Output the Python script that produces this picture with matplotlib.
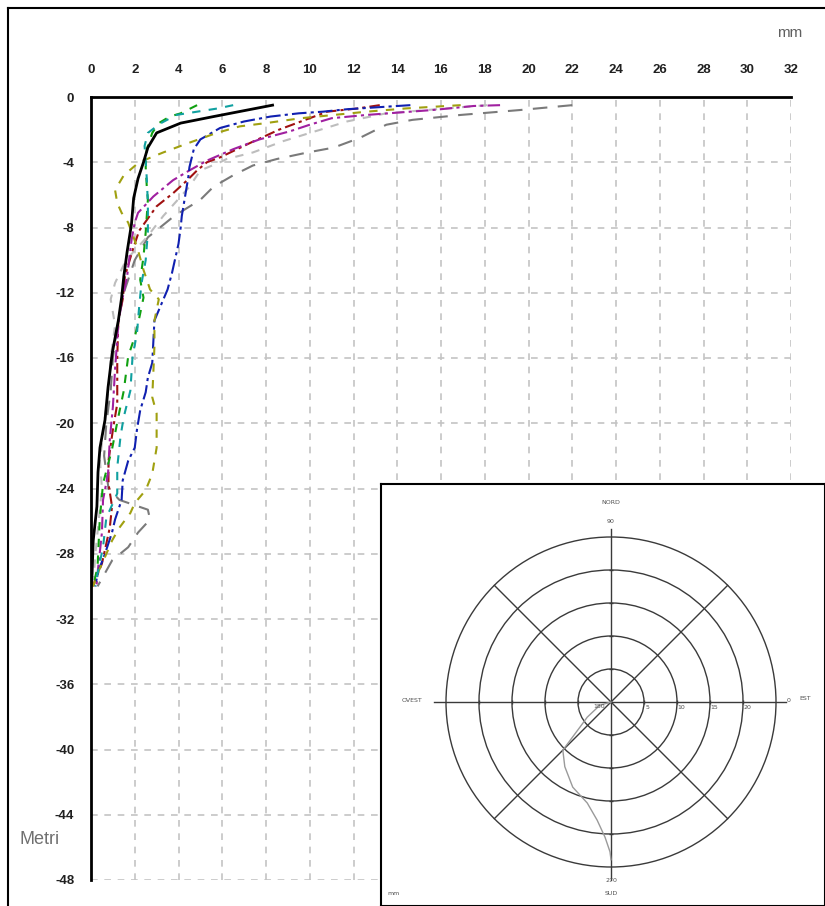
'''
Inclinometer profile: displacement (mm) vs depth (m), with a polar
plan-view inset of the displacement direction.
'''

import numpy as np
import matplotlib.pyplot as plt
from matplotlib.lines import Line2D
from matplotlib.patches import Circle

# ---- data ---------------------------------------------------------------
x_ticks = list(range(0, 33, 2))
y_ticks = list(range(0, -49, -4))

black_d = [-0.5, -1.2, -1.6, -2.2, -3.1, -4.0, -5.0, -6.2, -7.8, -9.5, -11, -12.3, -13.7,
           -15.7, -17.8, -19.8, -21.5, -23, -25.1, -27.2, -29.2, -30]
black_x = [8.3, 5.6, 4.1, 3.0, 2.6, 2.4, 2.15, 1.95, 1.85, 1.65, 1.5, 1.4, 1.25,
           0.97, 0.78, 0.64, 0.41, 0.32, 0.27, 0.1, 0.05, 0.0]

cyan_d = [-0.5, -0.7, -1.1, -1.6, -2.2, -3.0, -3.9, -5.0, -6.5, -8.3, -10, -11.5, -12.9,
          -14.5, -15.9, -18, -19.6, -20.8, -22.7, -24.3, -25.8, -27.6, -29.2, -30]
cyan_x = [6.5, 5.8, 3.9, 3.2, 2.6, 2.45, 2.5, 2.55, 2.6, 2.6, 2.5, 2.3, 2.2,
          2.1, 1.9, 1.8, 1.5, 1.35, 1.2, 1.2, 0.7, 0.55, 0.3, 0.2]

green_d = [-0.5, -1.0, -1.2, -1.6, -2.2, -3.2, -4.3, -5.5, -6.3, -7.3, -8.3, -9.8, -11.2,
           -12.3, -13.9, -14.7, -15.9, -18, -19.6, -21.6, -23.7, -25.9, -28.8, -30]
green_x = [4.85, 4.1, 3.6, 3.1, 2.8, 2.55, 2.5, 2.55, 2.6, 2.55, 2.5, 2.4, 2.25,
           2.4, 2.15, 2.0, 1.7, 1.5, 1.25, 0.96, 0.55, 0.4, 0.3, 0.1]

olive_d = [-0.5, -0.7, -0.9, -1.3, -1.6, -1.8, -2.2, -2.8, -3.4, -4.0, -4.8, -5.7, -6.5,
           -7.1, -7.7, -8.8, -9.4, -10.6, -11.8, -12.4, -13.7, -15.3, -16.9, -18.4,
           -19.4, -21.5, -23.1, -24.1, -24.9, -25.5, -26.4, -27.2, -28.2, -29.2, -30]
olive_x = [16.9, 14.4, 12.6, 9.6, 8.0, 6.8, 5.75, 4.5, 3.3, 2.2, 1.5, 1.1, 1.2,
           1.4, 1.7, 2.0, 2.15, 2.4, 2.7, 3.1, 2.9, 2.9, 2.85, 2.8,
           3.0, 3.0, 2.8, 2.5, 2.0, 1.8, 1.3, 0.96, 0.64, 0.3, 0.1]

blue_d = [-0.5, -0.75, -0.9, -1.0, -1.2, -1.5, -1.9, -2.6, -3.2, -4.3, -4.9, -6.1, -7.3,
          -8.0, -9.0, -10.8, -11.8, -13.7, -16.3, -17.2, -18.1, -19.2, -20.4, -21.5,
          -22.3, -23.5, -24.7, -25.9, -26.7, -28, -29.2, -30]
blue_x = [14.6, 11.7, 10.6, 9.5, 8.2, 7.0, 5.9, 5.0, 4.7, 4.5, 4.45, 4.3, 4.15,
          4.1, 4.0, 3.7, 3.5, 2.9, 2.8, 2.6, 2.5, 2.25, 2.1, 2.0,
          1.7, 1.45, 1.4, 1.1, 0.96, 0.64, 0.3, 0.2]

magenta_d = [-0.5, -0.55, -0.8, -1.1, -1.3, -1.7, -2.1, -2.6, -3.2, -3.9, -4.5, -5.1, -6.1,
             -7.1, -7.7, -8.8, -11, -12.6, -13.9, -16.7, -19, -21, -23.1, -24.7, -26.7,
             -29.2, -30]
magenta_x = [18.7, 17.5, 15.6, 12.6, 11, 10, 9.1, 7.7, 6.5, 5.3, 4.5, 3.75, 2.85,
             2.15, 2.0, 1.85, 1.65, 1.4, 1.25, 1.1, 1.0, 0.86, 0.78, 0.55, 0.5,
             0.3, 0.25]

red_d = [-0.5, -0.7, -0.9, -2.0, -2.8, -3.7, -4.0, -4.5, -5.1, -5.9, -6.7, -8.2, -9.4,
         -11, -12.4, -13.7, -16, -18.8, -20.4, -22.3, -23.7, -25.1, -26.4, -27.2,
         -28.6, -29.6, -30]
red_x = [13.2, 12.2, 10.8, 8.6, 7.3, 5.9, 5.3, 4.85, 4.4, 3.75, 3.0, 2.2, 1.9,
         1.55, 1.45, 1.25, 1.2, 1.2, 1.0, 0.8, 0.8, 0.96, 0.86, 0.73,
         0.5, 0.2, 0.1]

silver_d = [-0.5, -1.0, -1.5, -2.0, -2.7, -3.4, -3.8, -4.0, -4.5, -5.5, -7.3, -8.6, -10,
            -11.4, -12.4, -14, -16, -18, -20, -22.3, -24, -26, -28, -30]
silver_x = [18.1, 13.5, 11.7, 10.5, 8.8, 7.4, 6.2, 5.9, 5.0, 4.5, 3.3, 2.55, 1.6,
            1.1, 0.9, 1.1, 0.9, 0.8, 0.6, 0.41, 0.5, 0.35, 0.2, 0.1]

gray_d = [-0.5, -0.8, -1.1, -1.4, -1.7, -2.5, -3.1, -3.4, -3.8, -4.2, -4.8, -5.5, -6.3,
          -7.3, -8.6, -10, -12, -14, -16, -18, -20, -22, -24, -24.7, -25.3, -25.9,
          -26.7, -27.6, -28.4, -30]
gray_x = [22.0, 19.6, 16.9, 14.7, 13.5, 12.3, 11.1, 9.9, 8.5, 7.4, 6.5, 5.6, 5.0,
          3.8, 2.6, 2.0, 1.5, 1.2, 1.0, 0.9, 0.7, 0.6, 0.8, 1.3, 2.6, 2.7,
          2.15, 1.7, 0.97, 0.3]

# polar inset: cumulative displacement path (mm, east / north)
path_e = [0, -1.7, -3.6, -4.7, -7.3, -7.0, -5.8, -3.6, -2.1, -0.9, -0.15, 0.0]
path_n = [0, -0.5, -2.3, -3.8, -7.3, -9.8, -12.9, -15.3, -17.9, -20.5, -22.7, -23.9]
rings = [5, 10, 15, 20, 25]

# ---- figure ---------------------------------------------------------------
W, H = 825, 906
fig = plt.figure(figsize=(W / 100, H / 100), dpi=100)
fig.patch.set_facecolor('white')

tick_font = ['Liberation Sans Narrow', 'Liberation Sans', 'DejaVu Sans']

ax = fig.add_axes([91 / W, 1 - 880 / H, 700 / W, 783 / H])
ax.set_xlim(0, 32)
ax.set_ylim(-48, 0)
ax.xaxis.tick_top()
ax.set_xticks(x_ticks)
ax.set_yticks(y_ticks)
ax.set_xticklabels([str(v) for v in x_ticks], fontsize=9.5, fontweight='bold',
                   family=tick_font, color='#202020')
ax.set_yticklabels([str(v) for v in y_ticks], fontsize=9.5, fontweight='bold',
                   family=tick_font, color='#202020')
ax.tick_params(axis='x', length=0, pad=15)
ax.tick_params(axis='y', length=0, pad=12)
ax.grid(True, color='#c4c4c4', linestyle=(0, (4, 4)), linewidth=1.2)
ax.spines['right'].set_visible(False)
ax.spines['bottom'].set_visible(False)
ax.spines['left'].set_linewidth(2)
ax.spines['top'].set_linewidth(2)
ax.set_axisbelow(True)

series = [
    (gray_x, gray_d, '#7a7a7a', (0, (7, 5))),
    (silver_x, silver_d, '#bdbdbd', (0, (4, 4))),
    (red_x, red_d, '#a01010', (0, (5, 2, 1.5, 2))),
    (magenta_x, magenta_d, '#a020a0', (0, (6, 2, 1.5, 2))),
    (blue_x, blue_d, '#1020b0', (0, (7, 2, 1.5, 2))),
    (olive_x, olive_d, '#a0a010', (0, (4, 4))),
    (green_x, green_d, '#10a010', (0, (4, 4))),
    (cyan_x, cyan_d, '#10a0a0', (0, (4, 4))),
    (black_x, black_d, 'black', '-'),
]
for xs, ds, col, ls in series:
    lw = 2 if col == 'black' else 1.5
    ax.plot(xs, ds, color=col, linestyle=ls, linewidth=lw)

fig.text(790 / W, 1 - 33 / H, 'mm', fontsize=11, color='#606060',
         ha='center', va='center', family='Liberation Sans')
fig.text(40 / W, 1 - 840 / H, 'Metri', fontsize=13, color='#707070',
         ha='center', va='center', family='Liberation Sans')

# outer frame (left and top edges)
fig.add_artist(Line2D([8 / W, 8 / W], [0, 1 - 8 / H], transform=fig.transFigure,
                      color='black', linewidth=1.5))
fig.add_artist(Line2D([8 / W, 1], [1 - 8 / H, 1 - 8 / H], transform=fig.transFigure,
                      color='black', linewidth=1.5))

# ---- polar inset ----------------------------------------------------------
px_mm = 6.6
ix0, iy0, iw, ih = 381, 484, 444, 422
cx, cy = 611 - ix0, (iy0 + ih) - 702
pax = fig.add_axes([ix0 / W, 1 - (iy0 + ih) / H, iw / W, ih / H])
pax.set_xlim(-cx / px_mm, (iw - cx) / px_mm)
pax.set_ylim(-cy / px_mm, (ih - cy) / px_mm)
pax.set_facecolor('white')
pax.set_xticks([])
pax.set_yticks([])
for s in pax.spines.values():
    s.set_linewidth(1.5)
    s.set_color('black')

line_col = '#3a3a3a'
for r in rings:
    pax.add_patch(Circle((0, 0), r, fill=False, edgecolor=line_col, linewidth=1))
pax.plot([-26.8, 26.5], [0, 0], color=line_col, linewidth=1)
pax.plot([0, 0], [-27.0, 26.2], color=line_col, linewidth=1)
diag = 25 / np.sqrt(2)
pax.plot([-diag, diag], [-diag, diag], color=line_col, linewidth=1)
pax.plot([-diag, diag], [diag, -diag], color=line_col, linewidth=1)
ring_pos = np.array(rings[:4] + [-r for r in rings[:4]])
pax.plot(ring_pos, np.zeros_like(ring_pos), '|', color=line_col, markersize=3)
pax.plot(np.zeros_like(ring_pos), ring_pos, '_', color=line_col, markersize=3)

pax.plot(path_e, path_n, color='#9a9a9a', linewidth=1)

lab = dict(fontsize=4.5, color='#505050', ha='center', va='center')
pax.text(0, 30.3, 'NORD', **lab)
pax.text(0, 27.4, '90', **lab)
pax.text(0, -27.0, '270', **lab)
pax.text(0, -29.0, 'SUD', **lab)
pax.text(-30.2, 0.2, 'OVEST', **lab)
pax.text(29.4, 0.6, 'EST', **lab)
pax.text(26.9, 0.3, '0', **lab)
pax.text(-1.8, -0.7, '180', **lab)
for r in rings[:4]:
    pax.text(r + 0.6, -0.9, str(r), **lab)
pax.text(-32.9, -29.0, 'mm', **lab)

plt.savefig('out.png', dpi=100)
